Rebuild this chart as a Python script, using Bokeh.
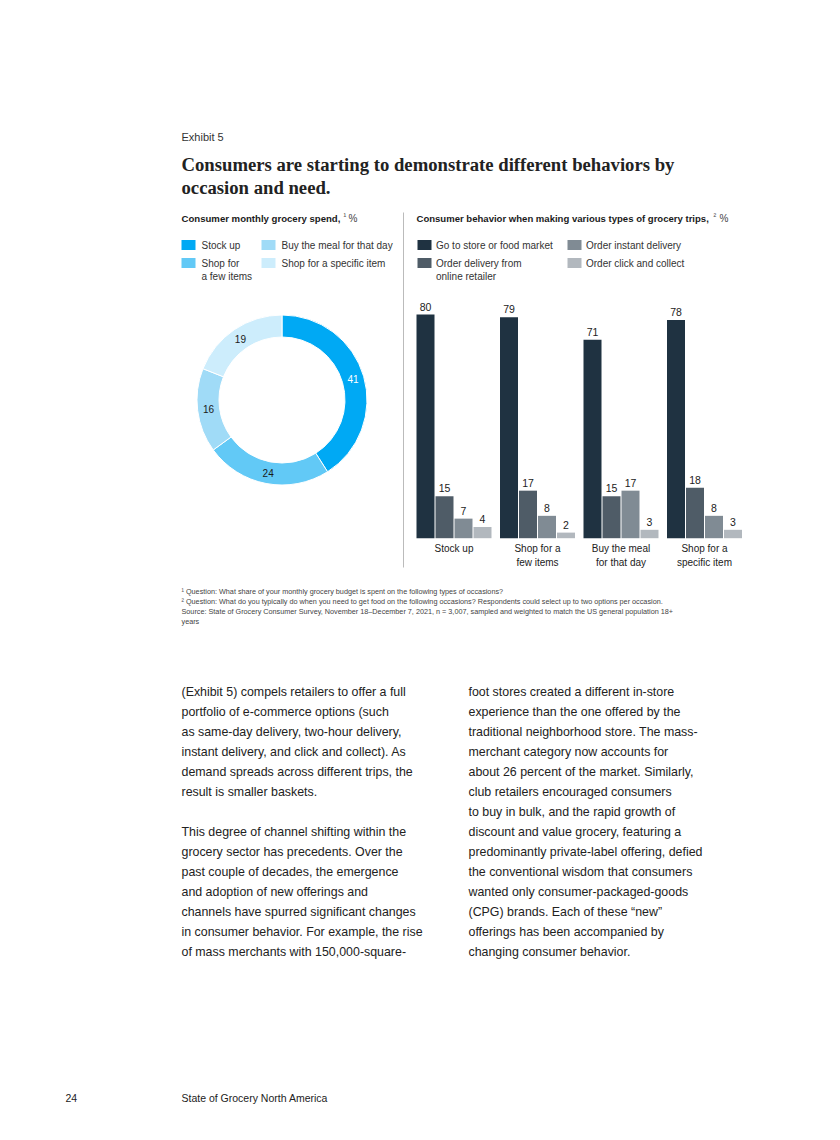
import numpy as np
from bokeh.plotting import figure
from bokeh.models import Range1d
from bokeh.embed import file_html
from bokeh.resources import INLINE
from bokeh.core.properties import value

# ---------------- data ----------------
spend_categories = ["Stock up", "Shop for a few items", "Buy the meal for that day", "Shop for a specific item"]
spend_values = [41, 24, 16, 19]
spend_colors = ["#00A9F4", "#62C9F6", "#A0DBF7", "#CDEDFC"]

occasion_line1 = ["Stock up", "Shop for a", "Buy the meal", "Shop for a"]
occasion_line2 = ["", "few items", "for that day", "specific item"]
behaviors = ["Go to store or food market", "Order delivery from online retailer",
             "Order instant delivery", "Order click and collect"]
store_market = [80, 79, 71, 78]
online_retailer = [15, 17, 15, 18]
instant_delivery = [7, 8, 17, 8]
click_collect = [4, 2, 3, 3]
behavior_colors = ["#1F3241", "#4F5C67", "#808B94", "#B2B8BE"]

title_lines = ["Consumers are starting to demonstrate different behaviors by",
               "occasion and need."]
footnotes = [
    "¹ Question: What share of your monthly grocery budget is spent on the following types of occasions?",
    "² Question: What do you typically do when you need to get food on the following occasions? Respondents could select up to two options per occasion.",
    "Source: State of Grocery Consumer Survey, November 18–December 7, 2021, n = 3,007, sampled and weighted to match the US general population 18+",
    "years",
]
body_left = [
    "(Exhibit 5) compels retailers to offer a full",
    "portfolio of e-commerce options (such",
    "as same-day delivery, two-hour delivery,",
    "instant delivery, and click and collect). As",
    "demand spreads across different trips, the",
    "result is smaller baskets.",
    "",
    "This degree of channel shifting within the",
    "grocery sector has precedents. Over the",
    "past couple of decades, the emergence",
    "and adoption of new offerings and",
    "channels have spurred significant changes",
    "in consumer behavior. For example, the rise",
    "of mass merchants with 150,000-square-",
]
body_right = [
    "foot stores created a different in-store",
    "experience than the one offered by the",
    "traditional neighborhood store. The mass-",
    "merchant category now accounts for",
    "about 26 percent of the market. Similarly,",
    "club retailers encouraged consumers",
    "to buy in bulk, and the rapid growth of",
    "discount and value grocery, featuring a",
    "predominantly private-label offering, defied",
    "the conventional wisdom that consumers",
    "wanted only consumer-packaged-goods",
    "(CPG) brands. Each of these “new”",
    "offerings has been accompanied by",
    "changing consumer behavior.",
]

# ---------------- canvas (page coordinates, y negated) ----------------
W, H = 824, 1124
p = figure(width=W, height=H, output_backend="svg", toolbar_location=None,
           x_range=Range1d(0, W), y_range=Range1d(-H, 0),
           x_axis_location=None, y_axis_location=None, min_border=0)
p.grid.visible = False
p.outline_line_color = None
p.background_fill_color = "white"

SANS = "Liberation Sans"
SERIF = "Liberation Serif"


def T(x, y, txt, size, color="#222222", bold=False, align="left", baseline="middle", font=SANS):
    p.text(x=[x], y=[-y], text=[txt], text_font=value(font), text_font_size=f"{size}px",
           text_color=color, text_font_style="bold" if bold else "normal",
           text_align=align, text_baseline=baseline)


# header
T(181, 136, "Exhibit 5", 11, "#333333")
for i, ln in enumerate(title_lines):
    T(181, 164 + 23 * i, ln, 18.7, "#222222", bold=True, font=SERIF)

# section titles
T(181, 218, "Consumer monthly grocery spend,", 9.6, "#1a1a1a", bold=True)
T(343, 216, "¹", 8, "#333333")
T(348, 218, "%", 10, "#444444")
T(416, 218, "Consumer behavior when making various types of grocery trips,", 9.55, "#1a1a1a", bold=True)
T(713, 216, "²", 8, "#333333")
T(719, 218, "%", 10, "#444444")

# separator
p.line(x=[403, 403], y=[-212, -567], line_color="#bbbbbb", line_width=1)

# ---------------- donut legend ----------------
leg_left_x = [181, 261]
leg_rows_y = [239.5, 257.5]
for i, (cat, col) in enumerate(zip(spend_categories, spend_colors)):
    cx = leg_left_x[i // 2]
    ry = leg_rows_y[i % 2]
    p.quad(left=[cx], right=[cx + 14], top=[-ry], bottom=[-(ry + 10)], fill_color=col, line_color=None)
lbl_left = [["Stock up"], ["Shop for", "a few items"], ["Buy the meal for that day"], ["Shop for a specific item"]]
for i, lines in enumerate(lbl_left):
    cx = leg_left_x[i // 2] + 20
    ry = leg_rows_y[i % 2] + 5
    for k, ln in enumerate(lines):
        T(cx, ry + 13.5 * k, ln, 10, "#333333")

# ---------------- donut ----------------
dcx, dcy = 281.5, 399.5
r_in, r_out = 63, 85
vals = np.array(spend_values, dtype=float)
cum = np.cumsum(vals) / vals.sum()
prev = np.concatenate([[0.0], cum[:-1]])
start = np.pi / 2 - 2 * np.pi * prev
end = np.pi / 2 - 2 * np.pi * cum
p.annular_wedge(x=[dcx] * len(vals), y=[-dcy] * len(vals), inner_radius=r_in, outer_radius=r_out,
                start_angle=list(start), end_angle=list(end), direction="clock",
                fill_color=spend_colors, line_color="white", line_width=1)
mid = (start + end) / 2
r_lab = (r_in + r_out) / 2
lab_colors = ["white", "#1a1a1a", "#1a1a1a", "#1a1a1a"]
p.text(x=list(dcx + r_lab * np.cos(mid)), y=list(-dcy + r_lab * np.sin(mid)),
       text=[str(v) for v in spend_values], text_color=lab_colors,
       text_font=value(SANS), text_font_size="10px", text_align="center", text_baseline="middle")

# ---------------- bar legend ----------------
leg_right_x = [417, 567]
lbl_right = [["Go to store or food market"], ["Order delivery from", "online retailer"],
             ["Order instant delivery"], ["Order click and collect"]]
for i, col in enumerate(behavior_colors):
    cx = leg_right_x[i // 2]
    ry = leg_rows_y[i % 2]
    p.quad(left=[cx], right=[cx + 14], top=[-ry], bottom=[-(ry + 10)], fill_color=col, line_color=None)
    for k, ln in enumerate(lbl_right[i]):
        T(cx + 18.5, ry + 5 + 13.5 * k, ln, 10, "#333333")

# ---------------- bars ----------------
base_y = 537.7
k_px = 2.796  # px per percentage point
p.extra_y_ranges = {"val": Range1d(start=(-H + base_y) / k_px, end=base_y / k_px)}
group_left0, group_step, slot, bw = 416, 83.5, 19, 18
series = [store_market, online_retailer, instant_delivery, click_collect]
for j, (vals_j, col) in enumerate(zip(series, behavior_colors)):
    xs = [group_left0 + group_step * i + bw / 2 + slot * j for i in range(len(vals_j))]
    p.vbar(x=xs, top=vals_j, bottom=0, width=bw, fill_color=col, line_color=None, y_range_name="val")
    p.text(x=xs, y=[v + 8.0 / k_px for v in vals_j], text=[str(v) for v in vals_j], y_range_name="val",
           text_font=value(SANS), text_font_size="10.5px", text_color="#222222",
           text_align="center", text_baseline="middle")

for i in range(len(occasion_line1)):
    gx = group_left0 + group_step * i + (slot * 3 + bw) / 2
    T(gx, 548, occasion_line1[i], 10, "#222222", align="center")
    if occasion_line2[i]:
        T(gx, 562, occasion_line2[i], 10, "#222222", align="center")

# ---------------- footnotes ----------------
for i, ln in enumerate(footnotes):
    T(181, 591 + 10 * i, ln, 7.25, "#444444")

# ---------------- body text ----------------
for i, ln in enumerate(body_left):
    if ln:
        T(181, 691 + 20 * i, ln, 12.4, "#222222")
for i, ln in enumerate(body_right):
    T(468, 691 + 20 * i, ln, 12.4, "#222222")

# ---------------- footer ----------------
T(65, 1097, "24", 10.5, "#222222")
T(181, 1097, "State of Grocery North America", 10.5, "#222222")

open("out.html", "w").write(file_html(p, INLINE))
